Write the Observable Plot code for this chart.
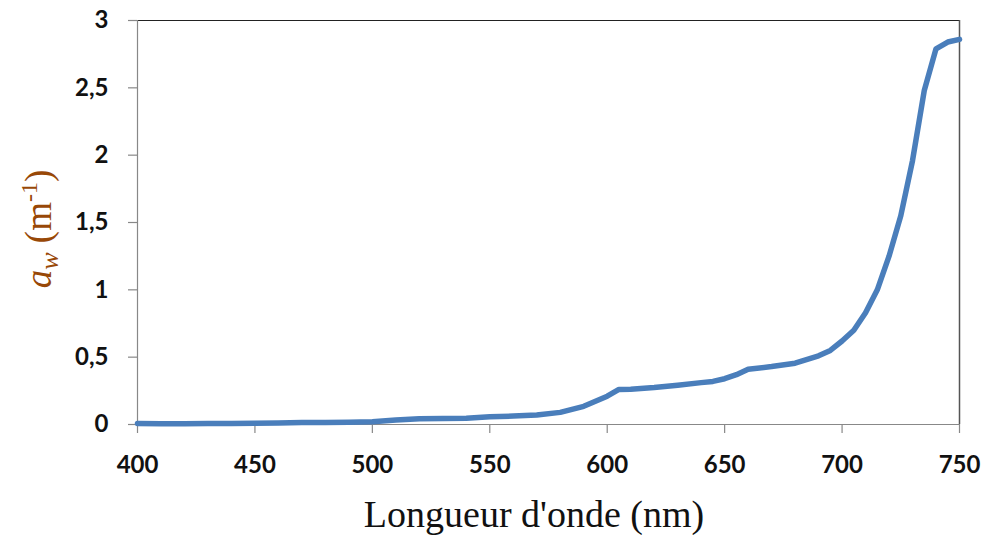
<!DOCTYPE html>
<html>
<head>
<meta charset="utf-8">
<script src="https://cdn.jsdelivr.net/npm/d3@7"></script>
<script src="https://cdn.jsdelivr.net/npm/@observablehq/plot@0.6"></script>
<style>
  body { margin: 0; background: #fff; }
  #chart { position: relative; width: 988px; height: 535px; }
</style>
</head>
<body>
<div id="chart"></div>
<script>
const wavelength = [400, 410, 420, 430, 440, 450, 460, 470, 480, 490, 500, 510, 520, 530, 540, 550, 560, 570, 580, 590, 600, 605, 610, 620, 630, 640, 645, 650, 655, 660, 670, 680, 690, 695, 700, 705, 710, 715, 720, 725, 730, 735, 740, 745, 750];
const absorption = [0.007, 0.006, 0.006, 0.007, 0.008, 0.009, 0.011, 0.014, 0.015, 0.017, 0.021, 0.033, 0.042, 0.045, 0.047, 0.057, 0.063, 0.070, 0.090, 0.135, 0.21, 0.26, 0.262, 0.274, 0.292, 0.311, 0.32, 0.34, 0.37, 0.41, 0.43, 0.455, 0.51, 0.55, 0.62, 0.70, 0.83, 1.0, 1.25, 1.55, 1.96, 2.48, 2.79, 2.84, 2.86];
const xTicks = [400, 450, 500, 550, 600, 650, 700, 750];
const yTicks = [0, 0.5, 1, 1.5, 2, 2.5, 3];
const xLabel = "Longueur d'onde (nm)";

const data = wavelength.map((w, i) => ({w, a: absorption[i]}));

const plot = Plot.plot({
  width: 988,
  height: 535,
  marginLeft: 137,
  marginRight: 29,
  marginTop: 20,
  marginBottom: 111,
  style: {background: "#fff", fontFamily: "Lato, 'Open Sans', sans-serif", overflow: "visible"},
  x: {domain: [400, 750], ticks: xTicks, label: null},
  y: {domain: [0, 3], ticks: yTicks, label: null},
  marks: [
    Plot.ruleY([3], {stroke: "#222", strokeWidth: 1.2}),
    Plot.ruleX([750], {stroke: "#555", strokeWidth: 1.5}),
    Plot.ruleX([400], {stroke: "#888", strokeWidth: 1.2}),
    Plot.ruleY([0], {stroke: "#888", strokeWidth: 1.2}),
    Plot.axisX({ticks: xTicks, tickSize: 9, tickPadding: 22, stroke: "#888", strokeWidth: 1.2,
      fontSize: 24, fontWeight: "bold", fill: "#111", label: null}),
    Plot.axisY({ticks: yTicks, tickSize: 9, tickPadding: 20, stroke: "#888", strokeWidth: 1.2,
      fontSize: 24, fontWeight: "bold", fill: "#111", label: null,
      tickFormat: d => String(d).replace(".", ",")}),
    Plot.line(data, {x: "w", y: "a", stroke: "#4a7ebb", strokeWidth: 5.5, strokeLinejoin: "round", strokeLinecap: "round"})
  ]
});

document.getElementById("chart").appendChild(plot);

const svg = d3.select(plot);
// x axis title
svg.append("text")
  .attr("x", 534)
  .attr("y", 527)
  .attr("text-anchor", "middle")
  .attr("font-family", "'Liberation Serif', 'DejaVu Serif', serif")
  .attr("font-size", 38)
  .attr("fill", "#111")
  .text(xLabel);

// y axis title: a_w (m^-1)
const yt = svg.append("text")
  .attr("transform", "translate(51,229) rotate(-90)")
  .attr("text-anchor", "middle")
  .attr("font-family", "'Liberation Serif', 'DejaVu Serif', serif")
  .attr("font-size", 37)
  .attr("fill", "#984807");
yt.append("tspan").attr("font-style", "italic").text("a");
yt.append("tspan").attr("font-style", "italic").attr("font-size", 26).attr("dy", 7).text("w");
yt.append("tspan").attr("dy", -7).text(" (m");
yt.append("tspan").attr("font-size", 24).attr("dy", -14).text("-1");
yt.append("tspan").attr("dy", 14).text(")");
</script>
</body>
</html>
